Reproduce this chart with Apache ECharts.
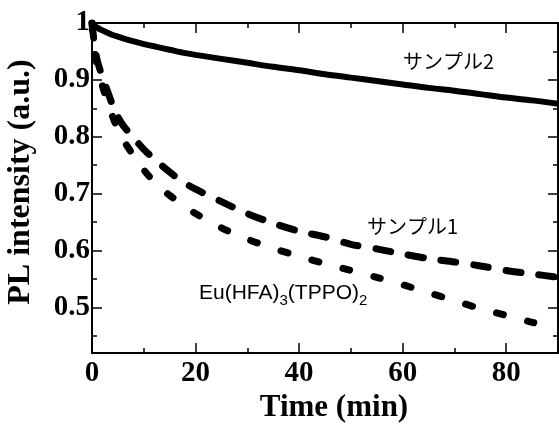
<!DOCTYPE html>
<html>
<head>
<meta charset="utf-8">
<script src="https://cdn.jsdelivr.net/npm/echarts@6/dist/echarts.min.js"></script>
<style>
html,body{margin:0;padding:0;background:#fff;}
#container1{width:559px;height:425px;}
</style>
</head>
<body>
<div id="container1"></div>
<script>
// 1.数据 (読み取り値)
var times   = [0, 0.5, 1, 2, 3, 4, 5, 6, 7.5, 10, 12.5, 15, 17.5, 20, 25, 30, 35, 40, 45, 50, 55, 60, 65, 70, 75, 80, 85, 90];
var sample2 = [1.0, 0.995, 0.992, 0.987, 0.983, 0.979, 0.976, 0.973, 0.969, 0.963, 0.958, 0.953, 0.948, 0.944, 0.937, 0.930, 0.923, 0.917, 0.910, 0.904, 0.898, 0.892, 0.886, 0.881, 0.875, 0.869, 0.864, 0.858];
var sample1 = [1.0, 0.96, 0.935, 0.905, 0.88, 0.855, 0.835, 0.82, 0.804, 0.778, 0.757, 0.738, 0.721, 0.708, 0.686, 0.665, 0.648, 0.634, 0.624, 0.611, 0.603, 0.594, 0.586, 0.580, 0.573, 0.565, 0.559, 0.553];
var euComplex = [1.0, 0.955, 0.925, 0.89, 0.86, 0.835, 0.812, 0.795, 0.774, 0.742, 0.716, 0.697, 0.681, 0.665, 0.640, 0.620, 0.604, 0.590, 0.577, 0.565, 0.553, 0.540, 0.526, 0.512, 0.498, 0.486, 0.474, 0.462];

var xMajor = [0, 20, 40, 60, 80];
var xMinor = [10, 30, 50, 70];
var yMajor = [0.5, 0.6, 0.7, 0.8, 0.9, 1];
var yMinor = [0.45, 0.55, 0.65, 0.75, 0.85, 0.95];

var serif = '"Liberation Serif", "Times New Roman", serif';

function pairs(xs, ys){
	var r = [];
	for(var i=0;i<xs.length;i++){ r.push([xs[i], ys[i]]); }
	return r;
}

// 轴 (主刻度 / 副刻度)
function xAx(pos, ticks, len, main){
	return {
		type:'value', position:pos, min:0, max:90,
		axisLine:{show:main, onZero:false, lineStyle:{color:'#000', width:2}},
		axisTick:{show:true, inside:true, length:len, customValues:ticks, lineStyle:{color:'#000', width:1.5}},
		axisLabel:{show:main && pos=='bottom', customValues:xMajor, margin:6,
			color:'#000', fontFamily:serif, fontWeight:'bold', fontSize:29},
		splitLine:{show:false},
		name: (main && pos=='bottom') ? 'Time (min)' : '',
		nameLocation:'middle', nameGap:38,
		nameTextStyle:{color:'#000', fontFamily:serif, fontWeight:'bold', fontSize:31, padding:[0,0,0,18]}
	};
}
function yAx(pos, ticks, len, main){
	return {
		type:'value', position:pos, min:0.42, max:1,
		axisLine:{show:main, onZero:false, lineStyle:{color:'#000', width:2}},
		axisTick:{show:true, inside:true, length:len, customValues:ticks, lineStyle:{color:'#000', width:1.5}},
		axisLabel:{show:main && pos=='left', customValues:yMajor, margin:2,
			color:'#000', fontFamily:serif, fontWeight:'bold', fontSize:29,
			formatter:function(v){ return v==1 ? '1' : v.toFixed(1); }},
		splitLine:{show:false},
		name: (main && pos=='left') ? 'PL intensity (a.u.)' : '',
		nameLocation:'middle', nameGap:55,
		nameTextStyle:{color:'#000', fontFamily:serif, fontWeight:'bold', fontSize:32, padding:[0,0,0,12]}
	};
}

var myChart = echarts.init(document.getElementById('container1'), null, {renderer:'canvas'});
myChart.setOption({
	backgroundColor:'#fff',
	animation:false,
	grid:{left:92, right:1, top:23, bottom:72, containLabel:false, outerBoundsMode:'none'},
	xAxis:[
		xAx('bottom', xMajor, 10, true),
		xAx('bottom', xMinor, 5, false),
		xAx('top', xMajor, 10, true),
		xAx('top', xMinor, 5, false)
	],
	yAxis:[
		yAx('left', yMajor, 10, true),
		yAx('left', yMinor, 5, false),
		yAx('right', yMajor, 10, true),
		yAx('right', yMinor, 5, false)
	],
	series:[
		{
			type:'line', name:'サンプル2', data:pairs(times, sample2),
			showSymbol:false, smooth:0.3,
			lineStyle:{color:'#000', width:6}
		},
		{
			type:'line', name:'サンプル1', data:pairs(times, sample1),
			showSymbol:false, smooth:0.3,
			lineStyle:{color:'#000', width:7, type:[15, 18], cap:'round'}
		},
		{
			type:'line', name:'Eu(HFA)3(TPPO)2', data:pairs(times, euComplex),
			showSymbol:false, smooth:0.3,
			lineStyle:{color:'#000', width:7, type:[7, 25], cap:'round'}
		}
	],
	graphic:[
		{type:'text', left:403, top:51, style:{text:'サンプル2', fill:'#000',
			font:'20px "Noto Sans CJK JP", sans-serif'}},
		{type:'text', left:367, top:216, style:{text:'サンプル1', fill:'#000',
			font:'20px "Noto Sans CJK JP", sans-serif'}},
		{type:'text', left:199, top:283, style:{
			text:'{a|Eu(HFA)}{b|3}{a|(TPPO)}{b|2}',
			rich:{
				a:{fontFamily:'"Liberation Sans", Arial, sans-serif', fontSize:21, lineHeight:30, fill:'#000', verticalAlign:'middle'},
				b:{fontFamily:'"Liberation Sans", Arial, sans-serif', fontSize:15, lineHeight:30, fill:'#000', verticalAlign:'bottom'}
			}
		}}
	]
});
</script>
</body>
</html>
